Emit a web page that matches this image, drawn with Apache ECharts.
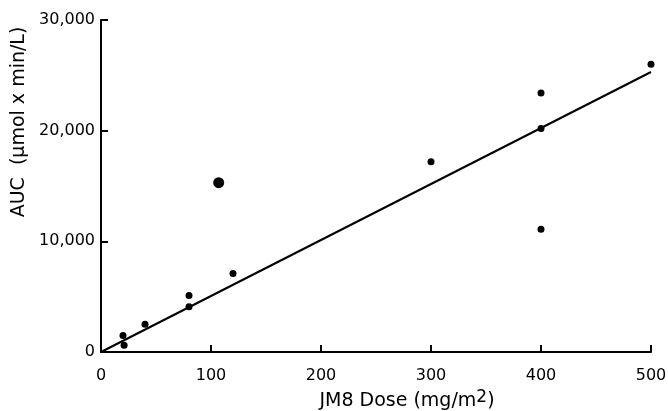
<!DOCTYPE html>
<html>
<head>
<meta charset="utf-8">
<script src="https://cdn.jsdelivr.net/npm/echarts@6/dist/echarts.min.js"></script>
<style>
  html, body { margin: 0; padding: 0; background: #fff; }
  #chart { width: 668px; height: 411px; }
</style>
</head>
<body>
<div id="chart"></div>
<script>
// JM8 dose (mg/m2) vs AUC (µmol x min/L)
const doses = [20, 21, 40, 80, 80, 120, 300, 400, 400, 400, 500];
const aucValues = [1500, 600, 2500, 5100, 4100, 7100, 17200, 23400, 20200, 11100, 26000];
// highlighted single observation drawn with a larger marker
const bigDose = [107];
const bigAuc = [15300];
// regression line end points
const fitDose = [0, 500];
const fitAuc = [0, 25300];
const xTicks = [0, 100, 200, 300, 400, 500];
const yTicks = [0, 10000, 20000, 30000];

const font = 'DejaVu Sans';
const chart = echarts.init(document.getElementById('chart'), null, { renderer: 'canvas' });

chart.setOption({
  animation: false,
  backgroundColor: '#ffffff',
  grid: { left: 101, right: 17, top: 20, bottom: 59, containLabel: false, outerBoundsMode: 'none' },
  xAxis: {
    type: 'value',
    min: xTicks[0],
    max: xTicks[xTicks.length - 1],
    interval: xTicks[1] - xTicks[0],
    name: '{a|JM8 Dose (mg/m}{s|2}{a|)}',
    nameLocation: 'middle',
    nameGap: 35,
    nameTextStyle: {
      padding: [0, 0, 0, 62],
      rich: {
        a: { fontFamily: font, fontSize: 19, color: '#000' },
        s: { fontFamily: font, fontSize: 17, color: '#000', verticalAlign: 'bottom', padding: [0, 0, 8, 0] }
      }
    },
    axisLine: { show: true, onZero: false, lineStyle: { color: '#000', width: 2 } },
    axisTick: { show: true, inside: true, length: 7, lineStyle: { color: '#000', width: 2 } },
    axisLabel: { show: true, margin: 16, fontFamily: font, fontSize: 16, color: '#000',
      formatter: v => String(v) },
    splitLine: { show: false }
  },
  yAxis: {
    type: 'value',
    min: yTicks[0],
    max: yTicks[yTicks.length - 1],
    interval: yTicks[1] - yTicks[0],
    name: 'AUC  (\u00b5mol x min/L)',
    nameLocation: 'middle',
    nameGap: 69,
    nameRotate: 90,
    nameTextStyle: { fontFamily: font, fontSize: 19, color: '#000', padding: [0, 0, 0, 128] },
    axisLine: { show: true, onZero: false, lineStyle: { color: '#000', width: 2 } },
    axisTick: { show: true, inside: true, length: 7, lineStyle: { color: '#000', width: 2 } },
    axisLabel: { show: true, margin: 6, fontFamily: font, fontSize: 16, color: '#000',
      formatter: v => v.toLocaleString('en-US') },
    splitLine: { show: false }
  },
  series: [
    {
      type: 'line',
      data: fitDose.map((d, i) => [d, fitAuc[i]]),
      symbol: 'none',
      lineStyle: { color: '#000', width: 2 },
      z: 2
    },
    {
      type: 'scatter',
      data: doses.map((d, i) => [d, aucValues[i]]),
      symbol: 'circle',
      symbolSize: 7,
      itemStyle: { color: '#000', opacity: 1 },
      z: 3
    },
    {
      type: 'scatter',
      data: bigDose.map((d, i) => [d, bigAuc[i]]),
      symbol: 'circle',
      symbolSize: 11,
      itemStyle: { color: '#000', opacity: 1 },
      z: 3
    }
  ]
});
</script>
</body>
</html>
